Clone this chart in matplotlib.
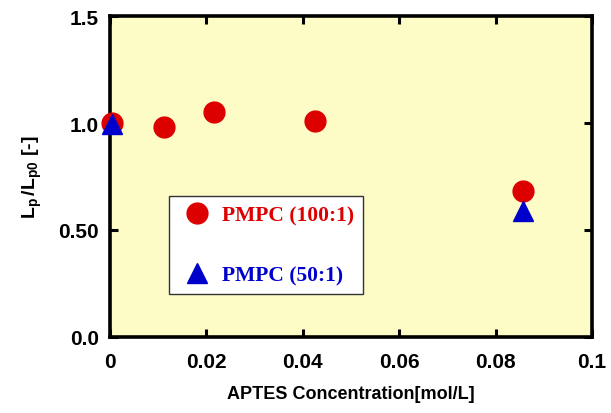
import numpy as np
import matplotlib
matplotlib.use('Agg')
from matplotlib import pyplot as plt

plt.rcParams['font.family'] = ['Liberation Sans', 'DejaVu Sans']
plt.rcParams['font.weight'] = 'bold'
plt.rcParams['mathtext.fontset'] = 'custom'
plt.rcParams['mathtext.rm'] = 'Liberation Sans:bold'
plt.rcParams['mathtext.it'] = 'Liberation Sans:bold'
plt.rcParams['mathtext.bf'] = 'Liberation Sans:bold'

# data
conc_100 = [0.0005, 0.0111, 0.0215, 0.0425, 0.0856]
lp_100 = [1.00, 0.98, 1.05, 1.01, 0.68]
conc_50 = [0.0005, 0.0856]
lp_50 = [0.995, 0.59]

xticks = [0, 0.02, 0.04, 0.06, 0.08, 0.1]
xtick_labels = ['0', '0.02', '0.04', '0.06', '0.08', '0.1']
yticks = [0.0, 0.5, 1.0, 1.5]
ytick_labels = ['0.0', '0.50', '1.0', '1.5']

red = '#dd0000'
blue = '#0000cc'

fig = plt.figure(figsize=(6.11, 4.14), dpi=100)
ax = fig.add_axes([110 / 611, 1 - 338 / 414, 482 / 611, 321 / 414])
ax.set_facecolor('#fdfcc6')

ax.plot(conc_100, lp_100, 'o', color=red, markersize=15, linestyle='none',
        label='PMPC (100:1)', clip_on=False, zorder=3)
ax.plot(conc_50, lp_50, '^', color=blue, markersize=15, linestyle='none',
        label='PMPC (50:1)', clip_on=False, zorder=4)

ax.set_xlim(0, 0.1)
ax.set_ylim(0, 1.5)
ax.set_xticks(xticks)
ax.set_xticklabels(xtick_labels)
ax.set_yticks(yticks)
ax.set_yticklabels(ytick_labels)
ax.tick_params(direction='in', length=6, width=2.2, top=True, right=True,
               labelsize=15, pad=8)
ax.tick_params(axis='x', pad=11)
for lab in ax.get_xticklabels() + ax.get_yticklabels():
    lab.set_fontweight('bold')
for sp in ax.spines.values():
    sp.set_linewidth(2.6)

ax.set_xlabel('APTES Concentration[mol/L]', fontsize=13, fontweight='bold',
              labelpad=10)
ax.set_ylabel(r'$\mathregular{L_p\,/L_{p0}}$ [-]', fontsize=14,
              fontweight='bold', labelpad=10)

leg = ax.legend(loc='upper left', bbox_to_anchor=(0.122, 0.439),
                fancybox=False, framealpha=1, edgecolor='#333333',
                prop={'family': 'Liberation Serif', 'weight': 'bold',
                      'size': 15.5},
                labelspacing=1.85, borderpad=0.42, handletextpad=0.25,
                handlelength=1.8, borderaxespad=0)
leg.get_frame().set_linewidth(1.0)
for txt, c in zip(leg.get_texts(), [red, blue]):
    txt.set_color(c)

fig.savefig('out.png', dpi=100)
